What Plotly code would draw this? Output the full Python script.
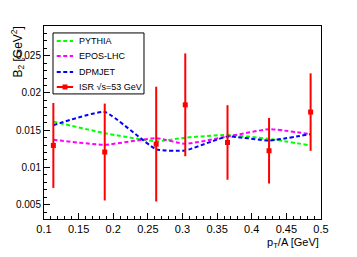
import plotly.graph_objects as go

# data
pt = [0.1135, 0.1877, 0.262, 0.304, 0.365, 0.425, 0.485]
isr_b2 = [0.01295, 0.01207, 0.01313, 0.0184, 0.01335, 0.01224, 0.01743]
isr_err = [0.0057, 0.0065, 0.0077, 0.0069, 0.0050, 0.0044, 0.0052]
pythia = [0.01615, 0.0146, 0.0135, 0.01400, 0.01437, 0.01384, 0.01295]
epos = [0.0137, 0.01304, 0.01393, 0.01317, 0.01415, 0.01513, 0.01447]
dpmjet = [0.01567, 0.01744, 0.01242, 0.01228, 0.01415, 0.01361, 0.01447]
legend_names = ["PYTHIA", "EPOS-LHC", "DPMJET", "ISR √s=53 GeV"]

FONT = "Liberation Sans, Arial, sans-serif"
DASH = "4px,2.5px"
colors = ["#00ff00", "#ff00ff", "#0000ff", "#ff0000"]

fig = go.Figure()
for name, vals, col in zip(legend_names[:3], [pythia, epos, dpmjet], colors[:3]):
    fig.add_trace(go.Scatter(x=pt, y=vals, mode="lines", name=name, showlegend=False,
                             line=dict(color=col, width=2, dash=DASH,
                                       shape="spline", smoothing=0.4)))

fig.add_trace(go.Scatter(x=pt, y=isr_b2, mode="markers", name=legend_names[3],
                         showlegend=False,
                         marker=dict(symbol="square", size=5, color="#ff0000"),
                         error_y=dict(type="data", array=isr_err, color="#ff0000",
                                      thickness=2, width=0)))

# manual legend (paper coordinates)
shapes = [dict(type="rect", xref="paper", yref="paper", x0=0.0325, x1=0.361,
               y0=0.648, y1=0.964, line=dict(color="black", width=1),
               fillcolor="white", layer="above")]
annotations = []
entry_y = [0.922, 0.845, 0.762, 0.684]
for i, (nm, col, yy) in enumerate(zip(legend_names, colors, entry_y)):
    shapes.append(dict(type="line", xref="paper", yref="paper", x0=0.046, x1=0.105,
                       y0=yy, y1=yy, layer="above",
                       line=dict(color=col, width=2, dash=DASH if i < 3 else "solid")))
    annotations.append(dict(text=nm, xref="paper", yref="paper", x=0.1177, y=yy,
                            xanchor="left", yanchor="middle", showarrow=False,
                            font=dict(size=9, family=FONT)))
shapes.append(dict(type="rect", xref="paper", yref="paper", xsizemode="pixel",
                   ysizemode="pixel", xanchor=0.0758, yanchor=entry_y[3],
                   x0=-2.5, x1=2.5, y0=-2.5, y1=2.5, fillcolor="#ff0000",
                   line=dict(width=0), layer="above"))

annotations += [
    dict(text="B<sub>2</sub> [GeV<sup>2</sup>]", xref="paper", yref="paper",
         x=0, y=1, xanchor="center", yanchor="top", xshift=-27, yshift=1,
         textangle=-90, showarrow=False, font=dict(size=12, family=FONT)),
    dict(text="p<sub>T</sub>/A [GeV]", xref="paper", yref="paper",
         x=1, y=0, xanchor="right", yanchor="top", yshift=-15,
         showarrow=False, font=dict(size=11, family=FONT)),
]

fig.update_layout(
    width=349, height=249,
    margin=dict(l=36, r=36, t=18, b=38, autoexpand=False),
    paper_bgcolor="white", plot_bgcolor="white",
    font=dict(family=FONT, color="black"),
    showlegend=False,
    xaxis=dict(range=[0.1, 0.5], dtick=0.05, tick0=0.1, showgrid=False,
               zeroline=False, showline=True, linecolor="black", linewidth=1,
               mirror=True, ticks="inside", ticklen=6, tickcolor="black",
               automargin=False,
               tickfont=dict(size=11, family=FONT),
               minor=dict(ticks="inside", dtick=0.01, ticklen=3,
                          tickcolor="black", showgrid=False)),
    yaxis=dict(range=[0.00308, 0.02898], dtick=0.005, tick0=0, showgrid=False,
               zeroline=False, showline=True, linecolor="black", linewidth=1,
               mirror=True, ticks="inside", ticklen=6, tickcolor="black",
               automargin=False,
               tickfont=dict(size=10, family=FONT),
               minor=dict(ticks="inside", dtick=0.001, ticklen=3,
                          tickcolor="black", showgrid=False)),
    shapes=shapes,
    annotations=annotations,
)

fig.write_html("out.html")
